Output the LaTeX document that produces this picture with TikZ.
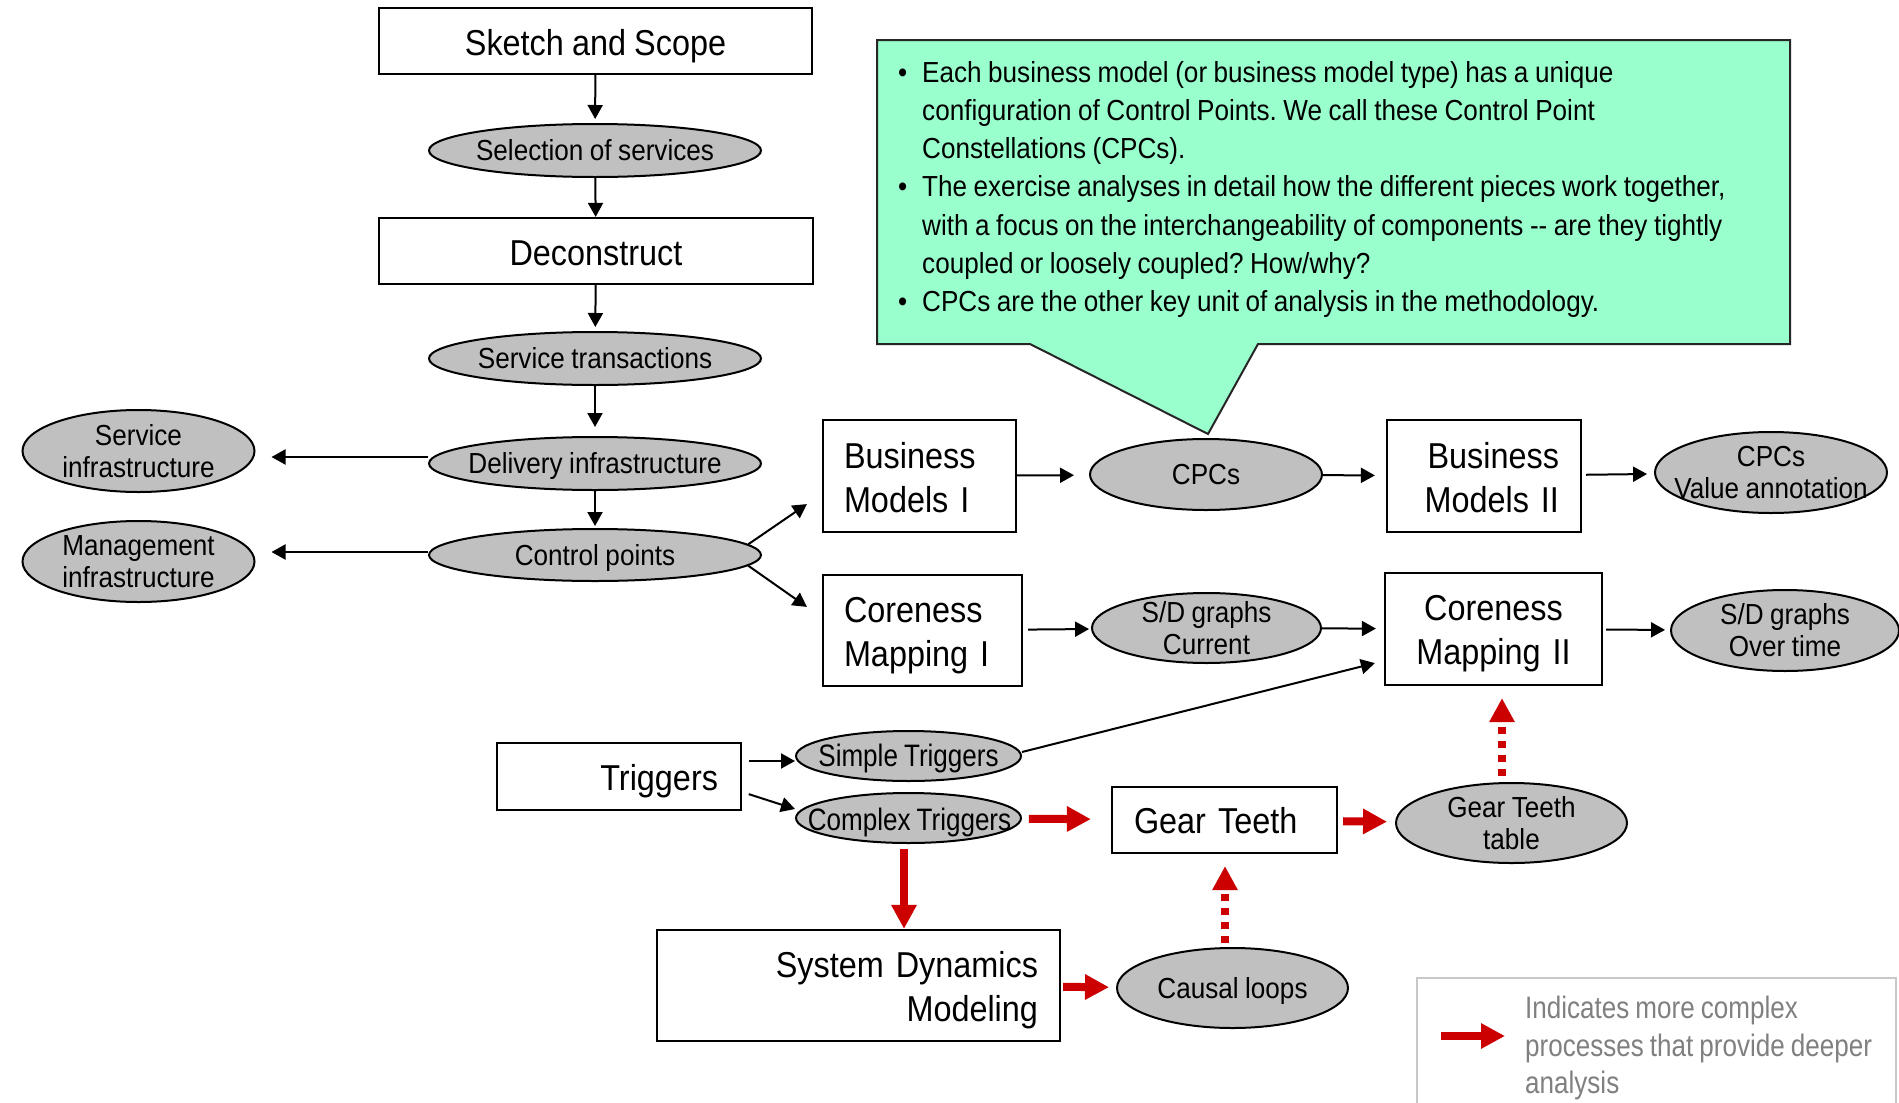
\documentclass[tikz,border=0pt]{standalone}
\usepackage{fontspec}
\usetikzlibrary{arrows.meta,shapes.geometric}
\newfontfamily\arialf{Liberation Sans}[FakeStretch=0.9, WordSpace=0.9]
\newfontfamily\narrowf{Liberation Sans}[FakeStretch=0.84, WordSpace=0.84]
\newcommand\fBig{\arialf\fontsize{36}{44}\selectfont}
\newcommand\fSmall{\arialf\fontsize{29}{32}\selectfont}
\newcommand\fCall{\arialf\fontsize{29}{38.2}\selectfont}
\newcommand\fThin{\narrowf\fontsize{31}{33}\selectfont}
\newcommand\fLeg{\narrowf\fontsize{31}{37.5}\selectfont}
\definecolor{mint}{RGB}{153,255,204}
\definecolor{ovalgray}{RGB}{192,192,192}
\definecolor{deepred}{RGB}{204,0,0}
\definecolor{legendgray}{RGB}{128,128,128}
\definecolor{framegray}{RGB}{200,200,200}
\frenchspacing

\begin{document}
\begin{tikzpicture}[x=1pt,y=-1pt,
  box/.style={draw, line width=2.2pt, fill=white, inner sep=0pt, font=\fBig},
  twoline/.style={text height=26pt, text depth=#1},
  oval/.style={ellipse, draw, line width=2pt, fill=ovalgray, inner sep=0pt},
  otext/.style={font=\fSmall, inner sep=0pt, text height=21pt, text depth=1pt},
  otwo/.style={font=\fSmall, inner sep=0pt, align=center},
  arr/.style={line width=2pt, -{Triangle[length=14pt,width=15pt]}},
  redarr/.style={color=deepred, line width=8pt, -{Triangle[length=24pt,width=24pt]}},
  reddash/.style={redarr, dash pattern=on 7pt off 7pt},
]
\fill[white] (0,0) rectangle (1899,1103);
\useasboundingbox (0,0) rectangle (1899,1103);

% speech bubble with notes
\path[fill=mint, draw=black!85, line width=2pt, line join=miter]
  (877,40) -- (1790,40) -- (1790,344) -- (1258,344) -- (1208,434)
  -- (1030,344) -- (877,344) -- cycle;
\node[anchor=north west, align=left, inner sep=0pt, font=\fCall] (note) at (922,61)
  {\llap{•\hspace{15pt}}Each business model (or business model type) has a unique\\
   configuration of Control Points. We call these Control Point\\
   Constellations (CPCs).\\
   \llap{•\hspace{15pt}}The exercise analyses in detail how the different pieces work together,\\
   with a focus on the interchangeability of components -- are they tightly\\
   coupled or loosely coupled? How/why?\\
   \llap{•\hspace{15pt}}CPCs are the other key unit of analysis in the methodology.};

% main column
\node[box, minimum width=433pt, minimum height=66pt, text height=28pt, text depth=0pt] (sketch) at (595.5,41) {Sketch and Scope};
\node[oval, minimum width=332pt, minimum height=53pt] (sel) at (595,150.5) {};
\node[otext] (selT) at (sel) {Selection of services};
\node[box, minimum width=434pt, minimum height=66pt, text height=28pt, text depth=0pt] (decon) at (596,251) {Deconstruct};
\node[oval, minimum width=332pt, minimum height=53pt] (trans) at (595,358.5) {};
\node[otext] (transT) at (trans) {Service transactions};
\node[oval, minimum width=332pt, minimum height=53pt] (deliv) at (595,463.5) {};
\node[otext] (delivT) at (deliv) {Delivery infrastructure};
\node[oval, minimum width=332pt, minimum height=52pt] (ctrl) at (595,555) {};
\node[otext] (ctrlT) at (ctrl) {Control points};

% infrastructure ovals
\node[oval, minimum width=232pt, minimum height=82pt] (svc) at (138.5,451) {};
\node[otwo] (svcT) at (svc) {Service\\infrastructure};
\node[oval, minimum width=232pt, minimum height=81pt] (mgmt) at (138.5,561.5) {};
\node[otwo] (mgmtT) at (mgmt) {Management\\infrastructure};

% business models row
\node[box, minimum width=193pt, minimum height=112pt, text width=151pt, inner xsep=21pt, align=left, twoline=42pt] (bm1) at (919.5,476) {Business\\Models I};
\node[oval, minimum width=232pt, minimum height=71pt] (cpcs) at (1206,474.5) {};
\node[otext] (cpcsT) at (cpcs) {CPCs};
\node[box, minimum width=194pt, minimum height=112pt, text width=150pt, inner xsep=22pt, align=right, twoline=42pt] (bm2) at (1484,476) {Business\\Models II};
\node[oval, minimum width=232pt, minimum height=81pt] (cpcsva) at (1771,472.5) {};
\node[otwo] (cpcsvaT) at (cpcsva) {CPCs\\Value annotation};

% coreness row
\node[box, minimum width=199pt, minimum height=111pt, text width=157pt, inner xsep=21pt, align=left, twoline=43pt] (cm1) at (922.5,630.5) {Coreness\\Mapping I};
\node[oval, minimum width=229pt, minimum height=70pt] (sdcur) at (1206.5,628) {};
\node[otwo] (sdcurT) at (sdcur) {S/D graphs\\Current};
\node[box, minimum width=217pt, minimum height=112pt, text width=197pt, inner xsep=10pt, align=center, twoline=44pt] (cm2) at (1493.5,629) {Coreness\\Mapping II};
\node[oval, minimum width=228pt, minimum height=81pt] (sdtime) at (1785,630.5) {};
\node[otwo] (sdtimeT) at (sdtime) {S/D graphs\\Over time};

% triggers and deeper analysis
\node[box, minimum width=244pt, minimum height=67pt, text width=198pt, inner xsep=23pt, align=right, text height=27pt, text depth=0pt] (trig) at (619,776.5) {Triggers};
\node[oval, minimum width=225pt, minimum height=50pt] (simple) at (908.5,756) {};
\node[font=\fThin, inner sep=0pt, text height=22pt, text depth=2pt] (simpleT) at (simple) {Simple Triggers};
\node[oval, minimum width=225pt, minimum height=50pt] (complex) at (908.5,818) {};
\node[font=\fThin, inner sep=0pt, text height=24pt, text depth=0pt] (complexT) at ([xshift=1pt]complex.center) {Complex Triggers};
\node[box, minimum width=225pt, minimum height=66pt, text width=181pt, inner xsep=22pt, align=left, text height=26pt, text depth=0pt] (gear) at (1224.5,820) {Gear Teeth};
\node[oval, minimum width=231pt, minimum height=80pt] (geartab) at (1511.5,823) {};
\node[otwo] (geartabT) at (geartab) {Gear Teeth\\table};
\node[box, minimum width=403pt, minimum height=111pt, text width=359pt, inner xsep=22pt, align=right, twoline=43pt] (sdm) at (858.5,985.5) {System Dynamics\\Modeling};
\node[oval, minimum width=231pt, minimum height=80pt] (causal) at (1232.5,988) {};
\node[otext] (causalT) at (causal) {Causal loops};

% legend
\draw[draw=framegray, line width=2pt] (1417,1110) -- (1417,978) -- (1896,978) -- (1896,1110);
\coordinate (legA) at (1441,1036);
\coordinate (legB) at (1505,1036);
\draw[redarr] (legA) -- (legB);
\node[anchor=north west, font=\fLeg, text=legendgray, align=left, inner sep=0pt] (legT) at (1525,996)
  {Indicates more complex\\processes that provide deeper\\analysis};

% black connectors
\draw[arr, shorten >=4pt] (sketch) -- (sel);
\draw[arr] (sel) -- (decon);
\draw[arr, shorten >=4pt] (decon) -- (trans);
\draw[arr, shorten >=9pt] (trans) -- (deliv);
\draw[arr, shorten >=2pt] (deliv) -- (ctrl);
\draw[arr, shorten >=16pt] ([yshift=6.5pt]deliv.west) -- ([yshift=-6pt]svc.east);
\draw[arr, shorten >=16pt] ([yshift=3pt]ctrl.west) -- ([yshift=9.5pt]mgmt.east);
\draw[arr] (ctrl.4) -- ([xshift=-15pt,yshift=29pt]bm1.south west);
\draw[arr] (ctrl.-4) -- ([xshift=-15pt,yshift=-33pt]cm1.north west);
\draw[arr, shorten >=15pt] (bm1) -- (cpcs);
\draw[arr, shorten >=11pt] (cpcs) -- (bm2);
\draw[arr, shorten <=4pt, shorten >=7pt] (bm2) -- (cpcsva);
\draw[arr, shorten <=5pt, shorten >=2pt] (cm1) -- (sdcur);
\draw[arr, shorten >=8pt] (sdcur) -- (cm2);
\draw[arr, shorten <=3pt, shorten >=5pt] (cm2) -- (sdtime);
\draw[arr, shorten <=7pt] ([yshift=15.5pt]trig.east) -- ([yshift=-5pt]simple.west);
\draw[arr, shorten <=7pt] ([yshift=-15.5pt]trig.east) -- ([yshift=9pt]complex.west);
\draw[arr] ([yshift=4pt]simple.east) -- ([xshift=-9pt,yshift=23pt]cm2.south west);

% red connectors
\draw[redarr, shorten <=7pt, shorten >=20pt] (complex) -- (gear);
\draw[redarr, shorten <=5pt] ([xshift=-4.5pt]complex.south) -- ([xshift=-4.5pt]complex.south |- sdm.north);
\draw[redarr, shorten <=5pt, shorten >=8pt] (gear) -- (geartab);
\draw[reddash, shorten <=6pt, shorten >=12pt] ([xshift=-9.5pt]geartab.north) -- ([xshift=8.5pt]cm2.south);
\draw[redarr, shorten <=2pt, shorten >=7pt] (sdm) -- (causal);
\draw[reddash, shorten <=4pt, shorten >=12pt] ([xshift=-7.5pt]causal.north) -- ([xshift=0.5pt]gear.south);
\end{tikzpicture}
\end{document}
